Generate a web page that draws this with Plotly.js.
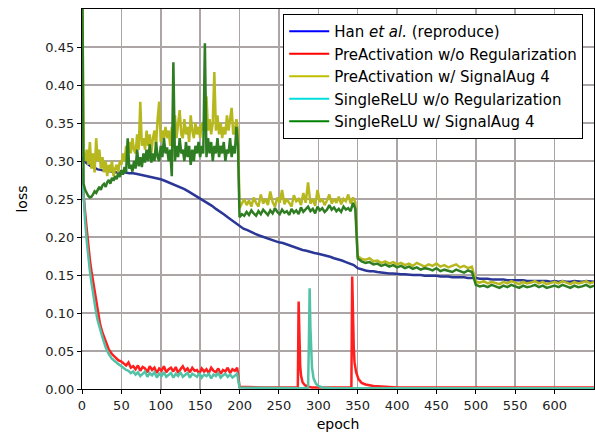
<!DOCTYPE html>
<html>
<head>
<meta charset="utf-8">
<script src="https://cdn.plot.ly/plotly-3.0.1.min.js"></script>
<style>html,body{margin:0;padding:0;background:#fff;}#chart{width:595px;height:434px;}</style>
</head>
<body>
<div id="chart"></div>
<script>
// ---------- data ----------
const seriesNames = [
  "Han <i>et al.</i> (reproduce)",
  "PreActivation w/o Regularization",
  "PreActivation w/ SignalAug 4",
  "SingleReLU w/o Regularization",
  "SingleReLU w/ SignalAug 4"
];
const xTickValues = [0, 50, 100, 150, 200, 250, 300, 350, 400, 450, 500, 550, 600];
const yTickValues = [0.00, 0.05, 0.10, 0.15, 0.20, 0.25, 0.30, 0.35, 0.40, 0.45];

// Han et al. (reproduce): epochs 0..650 every 5
const hanLoss = [
  0.305, 0.298, 0.294, 0.291, 0.289, 0.288, 0.287, 0.286, 0.286, 0.285,
  0.285, 0.285, 0.284, 0.284, 0.283, 0.282, 0.281, 0.280, 0.279, 0.278,
  0.276, 0.274, 0.272, 0.270, 0.268, 0.265, 0.263, 0.260, 0.257, 0.254,
  0.251, 0.248, 0.244, 0.241, 0.237, 0.234, 0.230, 0.226, 0.222, 0.218,
  0.214, 0.211, 0.209, 0.206, 0.204, 0.202, 0.200, 0.199, 0.197, 0.195,
  0.193, 0.192, 0.190, 0.188, 0.186, 0.185, 0.183, 0.182, 0.180, 0.179,
  0.178, 0.177, 0.175, 0.174, 0.172, 0.171, 0.169, 0.167, 0.165, 0.163,
  0.159, 0.157, 0.156, 0.155, 0.155, 0.154, 0.153, 0.153, 0.152, 0.152,
  0.151, 0.151, 0.151, 0.150, 0.150, 0.150, 0.150, 0.149, 0.149, 0.149,
  0.149, 0.148, 0.148, 0.148, 0.147, 0.147, 0.147, 0.147, 0.146, 0.146,
  0.146, 0.145, 0.145, 0.145, 0.144, 0.144, 0.144, 0.144, 0.143, 0.143,
  0.143, 0.143, 0.143, 0.142, 0.142, 0.142, 0.142, 0.142, 0.142, 0.141,
  0.142, 0.141, 0.142, 0.141, 0.141, 0.142, 0.141, 0.141, 0.142, 0.141, 0.141
];

// PreActivation w/o Regularization
const preNoRegEarlyEpochs = [0, 2, 4, 6, 8, 10, 12, 14, 16, 18, 20, 23, 26, 30, 34, 38, 42, 46, 50];
const preNoRegEarlyLoss = [0.280, 0.250, 0.232, 0.210, 0.187, 0.170, 0.155, 0.142, 0.128, 0.113,
  0.100, 0.085, 0.074, 0.062, 0.052, 0.046, 0.042, 0.038, 0.036];
// epochs 53..197 every 3
const preNoRegPlateauLoss = [
  0.034, 0.031, 0.035, 0.028, 0.030, 0.026, 0.031, 0.024, 0.029, 0.027,
  0.022, 0.030, 0.025, 0.028, 0.021, 0.027, 0.024, 0.030, 0.022, 0.026,
  0.028, 0.023, 0.029, 0.021, 0.026, 0.030, 0.024, 0.027, 0.022, 0.028,
  0.024, 0.025, 0.020, 0.027, 0.023, 0.026, 0.021, 0.028, 0.024, 0.022,
  0.027, 0.020, 0.025, 0.023, 0.028, 0.021, 0.026, 0.024, 0.028
];
const preNoRegLateEpochs = [200, 230, 260, 274, 275, 276, 277, 278, 280, 283, 287, 292, 300, 320,
  342, 343, 344, 345, 346, 348, 351, 355, 360, 370, 385, 400, 450, 500, 550, 600, 650];
const preNoRegLateLoss = [0.003, 0.002, 0.002, 0.002, 0.115, 0.050, 0.030, 0.018, 0.009, 0.005, 0.003, 0.002, 0.002, 0.002,
  0.002, 0.148, 0.090, 0.055, 0.035, 0.022, 0.013, 0.008, 0.006, 0.004, 0.003, 0.002, 0.002, 0.002, 0.002, 0.002, 0.002];

// SingleReLU w/o Regularization
const singleNoRegEarlyEpochs = [0, 2, 4, 6, 8, 10, 12, 14, 16, 18, 20, 23, 26, 30, 34, 38, 42, 46, 50];
const singleNoRegEarlyLoss = [0.290, 0.245, 0.220, 0.195, 0.172, 0.155, 0.140, 0.125, 0.113, 0.100,
  0.090, 0.078, 0.068, 0.055, 0.046, 0.040, 0.036, 0.033, 0.030];
// epochs 53..197 every 3
const singleNoRegPlateauLoss = [
  0.027, 0.025, 0.024, 0.021, 0.023, 0.019, 0.022, 0.017, 0.020, 0.023,
  0.016, 0.021, 0.018, 0.022, 0.015, 0.020, 0.017, 0.022, 0.016, 0.019,
  0.021, 0.015, 0.020, 0.017, 0.022, 0.016, 0.019, 0.021, 0.015, 0.020,
  0.018, 0.016, 0.021, 0.015, 0.019, 0.017, 0.020, 0.014, 0.019, 0.017,
  0.021, 0.015, 0.018, 0.020, 0.016, 0.019, 0.015, 0.018, 0.020
];
const singleNoRegLateEpochs = [200, 250, 287, 288, 289, 290, 291, 292, 294, 297, 300, 305, 320, 400, 500, 650];
const singleNoRegLateLoss = [0.002, 0.001, 0.001, 0.060, 0.1325, 0.080, 0.045, 0.028, 0.014, 0.007, 0.004, 0.002, 0.001, 0.001, 0.001, 0.001];

// PreActivation w/ SignalAug 4
// epochs 0..198 every 2
const preAugLoss1 = [
  0.600, 0.310, 0.300, 0.315, 0.295, 0.325, 0.290, 0.310, 0.285, 0.330,
  0.300, 0.315, 0.290, 0.305, 0.285, 0.300, 0.280, 0.295, 0.285, 0.300,
  0.280, 0.290, 0.295, 0.285, 0.300, 0.295, 0.310, 0.300, 0.320, 0.305,
  0.325, 0.310, 0.330, 0.315, 0.310, 0.335, 0.315, 0.378, 0.320, 0.330,
  0.315, 0.340, 0.320, 0.335, 0.310, 0.330, 0.340, 0.320, 0.355, 0.378,
  0.325, 0.340, 0.330, 0.345, 0.330, 0.340, 0.320, 0.345, 0.335, 0.360,
  0.330, 0.345, 0.367, 0.335, 0.330, 0.355, 0.335, 0.345, 0.325, 0.360,
  0.340, 0.330, 0.350, 0.335, 0.345, 0.330, 0.350, 0.340, 0.360, 0.385,
  0.340, 0.355, 0.335, 0.350, 0.417, 0.340, 0.360, 0.335, 0.350, 0.330,
  0.345, 0.335, 0.360, 0.340, 0.355, 0.370, 0.335, 0.340, 0.355, 0.340
];
// epochs 200..347 every 3
const preAugLoss2 = [
  0.238, 0.245, 0.250, 0.242, 0.248, 0.240, 0.252, 0.245, 0.240, 0.256,
  0.244, 0.250, 0.242, 0.260, 0.246, 0.240, 0.252, 0.245, 0.262, 0.243,
  0.250, 0.245, 0.240, 0.255, 0.247, 0.250, 0.242, 0.258, 0.245, 0.272,
  0.244, 0.250, 0.241, 0.262, 0.246, 0.250, 0.242, 0.248, 0.256, 0.244,
  0.250, 0.245, 0.253, 0.243, 0.250, 0.247, 0.256, 0.244, 0.252, 0.246
];
// epochs 350..495 every 5
const preAugLoss3 = [
  0.175, 0.171, 0.170, 0.172, 0.168, 0.169, 0.166, 0.168, 0.165, 0.167,
  0.164, 0.166, 0.163, 0.165, 0.162, 0.166, 0.163, 0.161, 0.164, 0.162,
  0.165, 0.161, 0.163, 0.160, 0.162, 0.164, 0.160, 0.162, 0.159, 0.161
];
// epochs 500..650 every 5
const preAugLoss4 = [
  0.141, 0.140, 0.142, 0.139, 0.141, 0.140, 0.138, 0.141, 0.139, 0.142,
  0.140, 0.138, 0.141, 0.139, 0.140, 0.142, 0.139, 0.141, 0.138, 0.140,
  0.141, 0.139, 0.142, 0.140, 0.138, 0.141, 0.139, 0.140, 0.142, 0.139, 0.141
];

// SingleReLU w/ SignalAug 4
const singleAugLoss1 = [
  0.600, 0.270, 0.262, 0.257, 0.254, 0.252, 0.253, 0.256, 0.260, 0.258,
  0.263, 0.266, 0.262, 0.268, 0.270, 0.266, 0.272, 0.275, 0.270, 0.278,
  0.274, 0.280, 0.276, 0.284, 0.279, 0.288, 0.282, 0.292, 0.285, 0.330,
  0.290, 0.295, 0.286, 0.300, 0.290, 0.315, 0.293, 0.305, 0.292, 0.310,
  0.298, 0.315, 0.300, 0.322, 0.298, 0.310, 0.300, 0.325, 0.305, 0.300,
  0.320, 0.305, 0.330, 0.310, 0.318, 0.300, 0.315, 0.280, 0.430, 0.300,
  0.320, 0.305, 0.330, 0.310, 0.315, 0.300, 0.325, 0.305, 0.320, 0.295,
  0.315, 0.300, 0.320, 0.310, 0.325, 0.305, 0.320, 0.310, 0.455, 0.305,
  0.330, 0.310, 0.325, 0.300, 0.320, 0.310, 0.330, 0.305, 0.320, 0.310,
  0.325, 0.300, 0.315, 0.310, 0.330, 0.305, 0.320, 0.310, 0.345, 0.320
];
const singleAugLoss2 = [
  0.226, 0.230, 0.228, 0.233, 0.229, 0.235, 0.231, 0.228, 0.234, 0.230,
  0.236, 0.232, 0.229, 0.235, 0.231, 0.238, 0.233, 0.230, 0.236, 0.232,
  0.234, 0.229, 0.237, 0.232, 0.235, 0.230, 0.239, 0.233, 0.236, 0.240,
  0.234, 0.237, 0.231, 0.240, 0.235, 0.238, 0.233, 0.236, 0.242, 0.236,
  0.239, 0.234, 0.237, 0.233, 0.240, 0.236, 0.238, 0.234, 0.245, 0.237
];
const singleAugLoss3 = [
  0.172, 0.168, 0.166, 0.167, 0.164, 0.165, 0.162, 0.164, 0.161, 0.163,
  0.160, 0.162, 0.159, 0.161, 0.158, 0.160, 0.157, 0.159, 0.158, 0.156,
  0.159, 0.155, 0.157, 0.156, 0.154, 0.157, 0.155, 0.153, 0.156, 0.154
];
const singleAugLoss4 = [
  0.137, 0.135, 0.136, 0.134, 0.137, 0.135, 0.133, 0.136, 0.134, 0.137,
  0.135, 0.133, 0.136, 0.134, 0.135, 0.137, 0.134, 0.136, 0.133, 0.135,
  0.136, 0.134, 0.137, 0.135, 0.133, 0.136, 0.134, 0.135, 0.137, 0.134, 0.136
];

// ---------- helpers ----------
function epochs(start, stop, step) { const a = []; for (let e = start; e <= stop; e += step) a.push(e); return a; }

const hanEpochs = epochs(0, 650, 5);
const plateauEpochs = epochs(53, 197, 3);
const augEpochs = [].concat(epochs(0, 198, 2), epochs(200, 347, 3), epochs(350, 495, 5), epochs(500, 650, 5));

const lineColors = ["#2b3797", "#ff1f1f", "#b6b81e", "#52c2a6", "#2f7d22"];
const legendColors = ["#0000ff", "#ff0000", "#bfbf00", "#00dede", "#008000"];

const traces = [
  {x: hanEpochs, y: hanLoss},
  {x: preNoRegEarlyEpochs.concat(plateauEpochs, preNoRegLateEpochs), y: preNoRegEarlyLoss.concat(preNoRegPlateauLoss, preNoRegLateLoss)},
  {x: augEpochs, y: preAugLoss1.concat(preAugLoss2, preAugLoss3, preAugLoss4)},
  {x: singleNoRegEarlyEpochs.concat(plateauEpochs, singleNoRegLateEpochs), y: singleNoRegEarlyLoss.concat(singleNoRegPlateauLoss, singleNoRegLateLoss)},
  {x: augEpochs, y: singleAugLoss1.concat(singleAugLoss2, singleAugLoss3, singleAugLoss4)}
].map((t, i) => Object.assign(t, {
  type: "scatter", mode: "lines", name: seriesNames[i], showlegend: false,
  line: {color: lineColors[i], width: 2.5}, hoverinfo: "skip"
}));

// legend entries with the legend's own colours
seriesNames.forEach((n, i) => traces.push({
  type: "scatter", mode: "lines", x: [null], y: [null], name: n, showlegend: true,
  line: {color: legendColors[i], width: 2}
}));

const font = "DejaVu Sans, sans-serif";
const layout = {
  width: 595, height: 434,
  margin: {l: 82, r: 1, t: 9, b: 45},
  paper_bgcolor: "#ffffff", plot_bgcolor: "#ffffff",
  font: {family: font, size: 13, color: "#222"},
  showlegend: true,
  legend: {
    x: 0.393, y: 0.987, xanchor: "left", yanchor: "top",
    bgcolor: "#ffffff", bordercolor: "#000000", borderwidth: 1,
    font: {family: font, size: 15, color: "#000"},
    itemwidth: 40,
    tracegroupgap: 0
  },
  xaxis: {
    range: [0, 650], tickvals: xTickValues, ticktext: xTickValues.map(String),
    showgrid: true, gridcolor: "#aca5a5", gridwidth: 1.5,
    showline: true, mirror: true, linecolor: "#000", linewidth: 1.2,
    ticks: "outside", ticklen: 4, tickcolor: "#000",
    zeroline: false,
    title: {text: "epoch", font: {family: font, size: 14, color: "#000"}, standoff: 7}
  },
  yaxis: {
    range: [0, 0.5], tickvals: yTickValues, ticktext: yTickValues.map(v => v.toFixed(2)),
    showgrid: true, gridcolor: "#aca5a5", gridwidth: 1.5,
    showline: true, mirror: true, linecolor: "#000", linewidth: 1.2,
    ticks: "outside", ticklen: 4, tickcolor: "#000",
    zeroline: false,
    title: {text: "loss", font: {family: font, size: 14, color: "#000"}, standoff: 14}
  }
};

Plotly.newPlot("chart", traces, layout, {displayModeBar: false, staticPlot: true});
</script>
</body>
</html>
